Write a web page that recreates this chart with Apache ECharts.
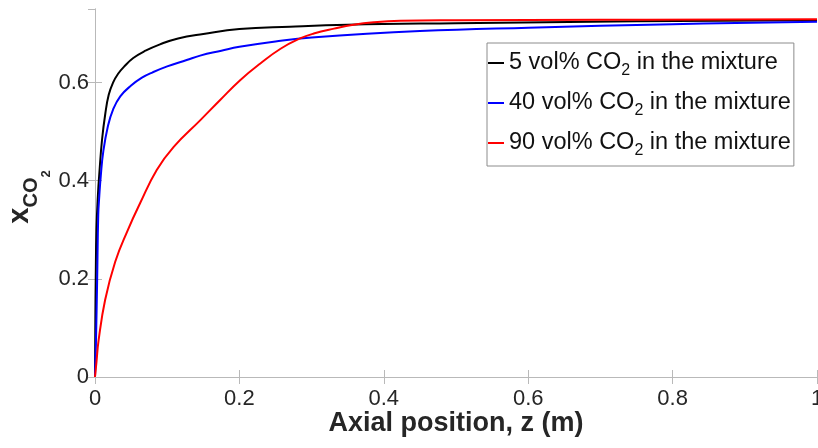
<!DOCTYPE html>
<html>
<head>
<meta charset="utf-8">
<title>CO2 mole fraction along the column</title>
<script src="https://cdn.jsdelivr.net/npm/echarts@6/dist/echarts.min.js"></script>
<style>
  html, body { margin: 0; padding: 0; background: #fff; }
  #chart { width: 818px; height: 448px; }
</style>
</head>
<body>
<div id="chart"></div>
<script>
// axial position z (m) and CO2 mole fraction, one pair of arrays per feed
const z5 = [0, 0.0005, 0.001, 0.002, 0.004, 0.006, 0.0097, 0.0143, 0.019, 0.025, 0.032, 0.04, 0.053, 0.07, 0.09, 0.115, 0.15, 0.2, 0.27, 0.35, 0.5, 0.75, 1.0];
const x5 = [0, 0.12, 0.2, 0.3, 0.37, 0.415, 0.483, 0.537, 0.575, 0.6, 0.618, 0.632, 0.65, 0.665, 0.678, 0.69, 0.699, 0.709, 0.714, 0.718, 0.721, 0.725, 0.727];

const z40 = [0, 0.0007, 0.0014, 0.003, 0.0045, 0.006, 0.008, 0.0115, 0.018, 0.025, 0.035, 0.05, 0.065, 0.08, 0.1, 0.127, 0.1456, 0.175, 0.2, 0.25, 0.3, 0.45, 0.6, 0.8, 1.0];
const x40 = [0, 0.04, 0.075, 0.2, 0.33, 0.37, 0.41, 0.46, 0.512, 0.545, 0.572, 0.594, 0.610, 0.621, 0.633, 0.646, 0.655, 0.665, 0.673, 0.684, 0.692, 0.705, 0.712, 0.719, 0.724];

const z90 = [0, 0.002, 0.005, 0.014, 0.028, 0.045, 0.0624, 0.0855, 0.109, 0.1456, 0.173, 0.201, 0.229, 0.257, 0.284, 0.303, 0.331, 0.358, 0.386, 0.423, 0.5, 0.7, 1.0];
const x90 = [0, 0.03, 0.075, 0.157, 0.235, 0.298, 0.354, 0.422, 0.469, 0.523, 0.564, 0.605, 0.639, 0.669, 0.690, 0.700, 0.710, 0.718, 0.723, 0.726, 0.727, 0.728, 0.729];

const seriesNames = ['5 vol% CO2 in the mixture', '40 vol% CO2 in the mixture', '90 vol% CO2 in the mixture'];
const seriesColors = ['#000000', '#0000ff', '#ff0000'];

const font = "'Liberation Sans', Arial, sans-serif";
const boxColor = '#b9b9b9';
const textColor = '#262626';

function pairs(zs, xs) {
    return zs.map((z, i) => [z, xs[i]]);
}

// "CO2" -> CO with a subscript 2
function subscriptName(name) {
    const parts = name.split('CO2');
    return '{a|' + parts[0] + 'CO}{s|2}{a|' + parts[1] + '}';
}

const data = [pairs(z5, x5), pairs(z40, x40), pairs(z90, x90)];

const chart = echarts.init(document.getElementById('chart'));

const boxAxis = {
    axisLine: { show: true, lineStyle: { color: boxColor, width: 1 } },
    axisTick: { show: true, inside: true, length: 7, lineStyle: { color: boxColor } },
    splitLine: { show: false },
};

const option = {
    animation: false,
    textStyle: { fontFamily: font },
    grid: { left: 95, right: 1, top: 9, bottom: 71, outerBoundsMode: 'none' },
    legend: {
        orient: 'vertical',
        left: 487,
        top: 43,
        padding: [8, 3, 7, 1],
        itemGap: 12,
        itemWidth: 16,
        itemHeight: 2,
        icon: 'rect',
        selectedMode: false,
        backgroundColor: '#ffffff',
        borderColor: '#8c8c8c',
        borderWidth: 1,
        data: seriesNames,
        formatter: subscriptName,
        textStyle: {
            rich: {
                a: { fontFamily: font, fontSize: 23.5, lineHeight: 24, color: '#111', verticalAlign: 'top' },
                s: { fontFamily: font, fontSize: 16, lineHeight: 15, color: '#111', verticalAlign: 'top', padding: [12, 0, 0, 0] },
            },
        },
    },
    xAxis: [
        Object.assign({}, boxAxis, {
            type: 'value',
            min: 0,
            max: 1,
            interval: 0.2,
            position: 'bottom',
            name: 'Axial position, z (m)',
            nameLocation: 'middle',
            nameGap: 33,
            nameMoveOverlap: false,
            nameTextStyle: { fontFamily: font, fontSize: 27, fontWeight: 'bold', color: textColor },
            axisLabel: { fontFamily: font, fontSize: 22, color: textColor, margin: 11 },
        }),
        Object.assign({}, boxAxis, {
            type: 'value',
            min: 0,
            max: 1,
            interval: 0.2,
            position: 'top',
            axisLabel: { show: false },
        }),
    ],
    yAxis: [
        Object.assign({}, boxAxis, {
            type: 'value',
            min: 0,
            max: 0.75,
            interval: 0.2,
            position: 'left',
            name: '{x|x}{c|CO}{n|2}',
            nameLocation: 'middle',
            nameRotate: 90,
            nameGap: 62,
            nameMoveOverlap: false,
            nameTextStyle: {
                rich: {
                    x: { fontFamily: font, fontSize: 29, fontWeight: 'bold', lineHeight: 28, color: textColor, verticalAlign: 'top' },
                    c: { fontFamily: font, fontSize: 20, fontWeight: 'bold', lineHeight: 19, color: textColor, verticalAlign: 'top', padding: [16, 0, 0, 0] },
                    n: { fontFamily: font, fontSize: 13, fontWeight: 'bold', lineHeight: 12, color: textColor, verticalAlign: 'top', padding: [35, 8, 0, 0] },
                },
            },
            axisLabel: { fontFamily: font, fontSize: 22, color: textColor, margin: 6, showMaxLabel: false },
        }),
        Object.assign({}, boxAxis, {
            type: 'value',
            min: 0,
            max: 0.75,
            interval: 0.2,
            position: 'right',
            axisLabel: { show: false },
        }),
    ],
    series: seriesNames.map((name, i) => ({
        name: name,
        type: 'line',
        data: data[i],
        showSymbol: false,
        smooth: 0.45,
        color: seriesColors[i],
        lineStyle: { color: seriesColors[i], width: 2 },
    })),
};

chart.setOption(option);
</script>
</body>
</html>
